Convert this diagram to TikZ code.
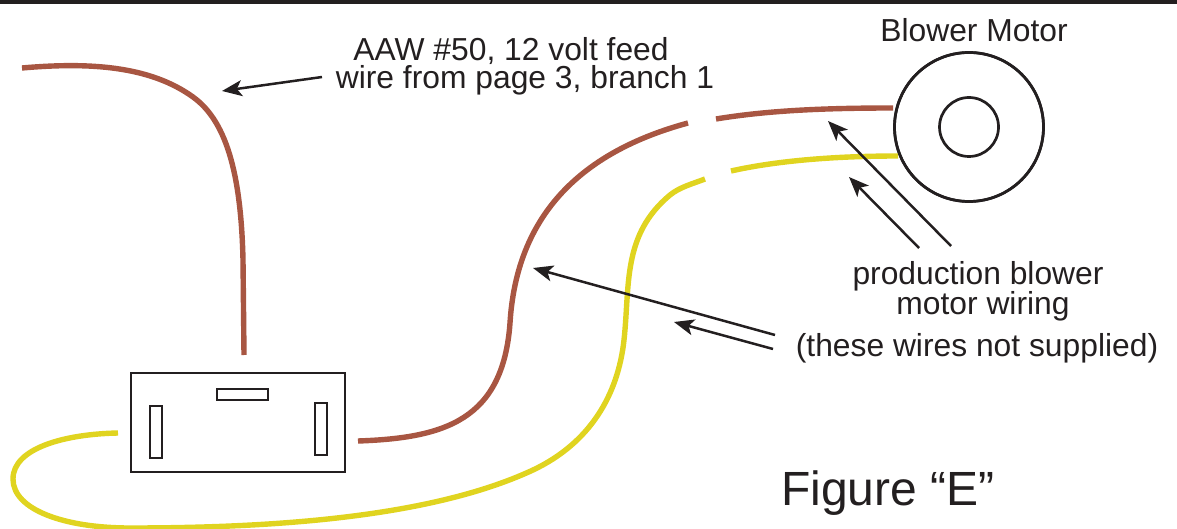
\documentclass[tikz,border=0pt]{standalone}
\usepackage{fontspec}
\setmainfont{Liberation Sans}
\usetikzlibrary{arrows.meta}
\definecolor{wirebrown}{RGB}{168,86,66}
\definecolor{wireyellow}{RGB}{224,212,32}
\definecolor{inkk}{RGB}{35,31,32}
\tikzset{
  brownwire/.style={draw=wirebrown,line width=5.4pt},
  yellowwire/.style={draw=wireyellow,line width=5.4pt},
  outline/.style={draw=inkk,line width=2.7pt,inner sep=0pt,minimum width=0pt},
  pointer/.style={draw=inkk,line width=2.5pt,-{Stealth[length=20pt,width=16pt,inset=5pt]}},
  lab/.style={text=inkk,font=\fontsize{31.8}{32}\selectfont,anchor=base,inner sep=0pt},
}
\begin{document}
\begin{tikzpicture}[x=1pt,y=-1pt]
\useasboundingbox (0,0) rectangle (1177,529);
\fill[inkk] (0,0) rectangle (1177,4);
\coordinate (b1s) at (22,68);
\coordinate (b1e) at (244,355);
\coordinate (b2s) at (358,441);
\coordinate (b2e) at (688,123);
\coordinate (b3s) at (716,119);
\coordinate (y1s) at (118,433);
\coordinate (y1e) at (705,179);
\coordinate (y2s) at (731,171);
\node[outline,circle,minimum size=149pt,fill=white] (motor) at (969,127) {};
\node[outline,circle,minimum size=59pt] (rotor) at (969,127) {};
\node[outline,rectangle,minimum width=214pt,minimum height=99pt] (relay) at (238,422.5) {};
\node[outline,rectangle,minimum width=51pt,minimum height=11pt] (pintop) at (242.5,394.5) {};
\node[outline,rectangle,minimum width=12pt,minimum height=52pt] (pinleft) at (156,432) {};
\node[outline,rectangle,minimum width=12pt,minimum height=52pt] (pinright) at (321,429) {};
\draw[brownwire] (b1s) .. controls (90,62) and (150,66) .. (193,97)
  .. controls (225,120) and (241,170) .. (243,260)
  -- (b1e);
\draw[brownwire] (b2s) .. controls (445,438) and (503,420) .. (510,323)
  .. controls (516,225) and (570,155) .. (b2e);
\draw[brownwire] (b3s) .. controls (770,110) and (830,108) .. (893,108);
\draw[yellowwire] (y1s) .. controls (65,434) and (13,448) .. (13,479)
  .. controls (13,510) and (65,528) .. (130,528)
  .. controls (270,528) and (430,518) .. (533,470)
  .. controls (590,443) and (618,395) .. (624,340)
  .. controls (630,285) and (622,235) .. (670,195)
  .. controls (680,187) and (692,184) .. (y1e);
\draw[yellowwire] (y2s) .. controls (780,160) and (840,156) .. (898,156);
\node[outline,circle,minimum size=149pt] at (969,127) {};
\node[lab] (tfeed1) at (511,61) {AAW \#50, 12 volt feed};
\node[lab] (tfeed2) at (525,89) {wire from page 3, branch 1};
\node[lab] (tmotor) at (974,42) {Blower Motor};
\node[lab] (tprod1) at (978,284) {production blower};
\node[lab] (tprod2) at (983,314) {motor wiring};
\node[lab] (tnot) at (977,356) {(these wires not supplied)};
\node[lab,font=\fontsize{48}{48}\selectfont] (tfig) at (888,505) {Figure “E”};
\coordinate (p1s) at (322,77);  \coordinate (p1e) at (222,91);
\coordinate (p2s) at (775,335); \coordinate (p2e) at (533,268);
\coordinate (p3s) at (773,349); \coordinate (p3e) at (674,322);
\coordinate (p4s) at (951,246); \coordinate (p4e) at (828,121);
\coordinate (p5s) at (919,248); \coordinate (p5e) at (849,177);
\draw[pointer] (p1s) -- (p1e);
\draw[pointer] (p2s) -- (p2e);
\draw[pointer] (p3s) -- (p3e);
\draw[pointer] (p4s) -- (p4e);
\draw[pointer] (p5s) -- (p5e);
\end{tikzpicture}
\end{document}
